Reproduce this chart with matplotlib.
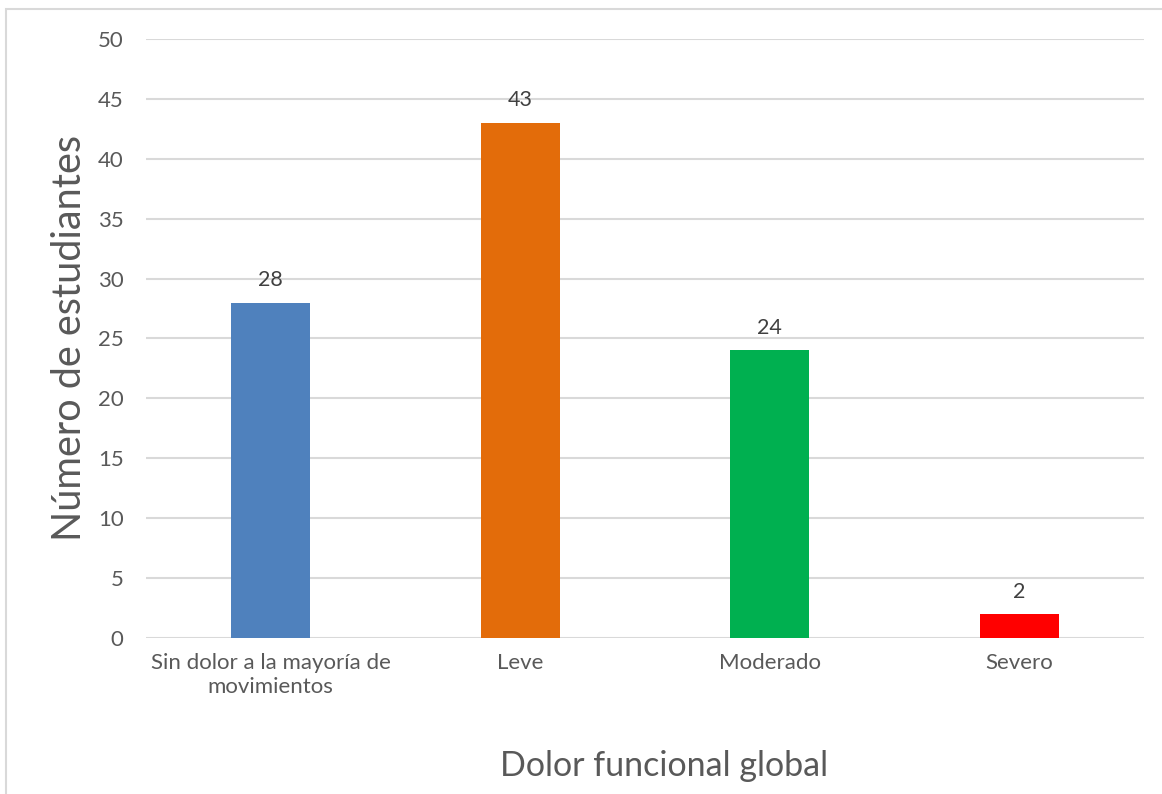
import matplotlib.pyplot as plt
from matplotlib.patches import Rectangle

categorias = ['Sin dolor a la mayoría de\nmovimientos', 'Leve', 'Moderado', 'Severo']
estudiantes = [28, 43, 24, 2]
colores = ['#4F81BD', '#E36C0A', '#00B050', '#FF0000']
yticks = [0, 5, 10, 15, 20, 25, 30, 35, 40, 45, 50]

plt.rcParams['font.family'] = ['Lato', 'DejaVu Sans']

fig = plt.figure(figsize=(11.62, 7.94), dpi=100)
ax = fig.add_axes([0.1256, 0.1965, 0.8589, 0.7544])

# marco gris alrededor del gráfico
fig.patches.append(Rectangle((6 / 1162, -0.1), 1.2, 1 - 9 / 794 + 0.1,
                             transform=fig.transFigure, fill=False,
                             edgecolor='#D9D9D9', linewidth=1.5))

x = range(len(categorias))
bars = ax.bar(x, estudiantes, width=0.317, color=colores, zorder=3)

for b, v in zip(bars, estudiantes):
    ax.annotate(str(v), (b.get_x() + b.get_width() / 2, v), xytext=(0, 9),
                textcoords='offset points', ha='center', va='bottom',
                fontsize=15.5, color='#404040')

ax.set_xlim(-0.5, 3.5)
ax.set_ylim(0, 50)
ax.set_yticks(yticks)
ax.set_xticks(list(x))
ax.set_xticklabels(categorias, fontsize=16, color='#595959', linespacing=1.25)
ax.tick_params(axis='y', labelsize=16, labelcolor='#595959', length=0, pad=16)
ax.tick_params(axis='x', length=0, pad=11)
ax.grid(axis='y', color='#D9D9D9', linewidth=1.5, zorder=0)
for s in ax.spines.values():
    s.set_visible(False)

ax.set_ylabel('Número de estudiantes', fontsize=28.5, color='#595959')
ax.yaxis.set_label_coords(-0.058, 0.5)
ax.set_xlabel('Dolor funcional global', fontsize=24.5, color='#595959', labelpad=38)
ax.xaxis.label.set_x(0.519)

fig.savefig('out.png', dpi=100)
